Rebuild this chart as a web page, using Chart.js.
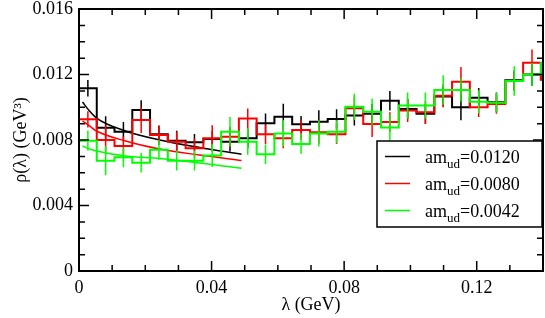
<!DOCTYPE html>
<html>
<head>
<meta charset="utf-8">
<script src="https://cdn.jsdelivr.net/npm/chart.js@4.4.1/dist/chart.umd.min.js"></script>
<style>
  body { margin: 0; background: #fff; }
  #wrap { width: 545px; height: 318px; }
</style>
</head>
<body>
<div id="wrap"><canvas id="rhoChart" width="545" height="318"></canvas></div>
<script>
// histogram bins in lambda (GeV), all the same width
var binWidth = 0.00536;

// rho(lambda) per bin, and its error, for each quark mass
var rho0120 = [0.01116, 0.00875, 0.00850, 0.00983, 0.00835, 0.00796, 0.00786, 0.00806, 0.00790,
               0.00810, 0.00902, 0.00942, 0.00896, 0.00912, 0.00928, 0.00949, 0.00960, 0.01040,
               0.00990, 0.00960, 0.01065, 0.01000, 0.01058, 0.01030, 0.01165, 0.01200, 0.01170];
var err0120 = [0.0005, 0.0007, 0.0006, 0.0006, 0.0005, 0.0006, 0.0005, 0.0005, 0.0006,
               0.0006, 0.0006, 0.0008, 0.0005, 0.0007, 0.0006, 0.0006, 0.0006, 0.0006,
               0.0006, 0.0006, 0.0006, 0.0008, 0.0006, 0.0006, 0.0006, 0.0007, 0.0006];

var rho0080 = [0.00926, 0.00800, 0.00763, 0.00922, 0.00830, 0.00790, 0.00750, 0.00810, 0.00820,
               0.00932, 0.00835, 0.00810, 0.00861, 0.00847, 0.00835, 0.00994, 0.00898, 0.00910,
               0.00980, 0.00970, 0.01070, 0.01156, 0.01000, 0.01020, 0.01160, 0.01272, 0.01170];
var err0080 = [0.0005, 0.0009, 0.0006, 0.0008, 0.0006, 0.0006, 0.0006, 0.0008, 0.0006,
               0.0006, 0.0006, 0.0006, 0.0006, 0.0007, 0.0006, 0.0007, 0.0008, 0.0006,
               0.0007, 0.0007, 0.0007, 0.0009, 0.0006, 0.0006, 0.0006, 0.0008, 0.0006];

var rho0042 = [0.00796, 0.00674, 0.00694, 0.00661, 0.00740, 0.00674, 0.00674, 0.00705, 0.00850,
               0.00790, 0.00713, 0.00840, 0.00776, 0.00840, 0.00850, 0.01003, 0.00973, 0.00877,
               0.01010, 0.01010, 0.01105, 0.01105, 0.01034, 0.01028, 0.01160, 0.01200, 0.01270];
var err0042 = [0.0006, 0.0009, 0.0006, 0.0006, 0.0006, 0.0006, 0.0006, 0.0007, 0.0009,
               0.0008, 0.0006, 0.0008, 0.0006, 0.0008, 0.0007, 0.0008, 0.0008, 0.0008,
               0.0008, 0.0008, 0.0009, 0.0007, 0.0007, 0.0006, 0.0009, 0.0007, 0.0006];

// fitted curves at small lambda
var fitLambda = [0.00106, 0.00317, 0.00529, 0.01406, 0.02434, 0.03643, 0.04903];
var fit0120 = [0.01032, 0.00977, 0.00934, 0.00855, 0.00800, 0.00754, 0.00713];
var fit0080 = [0.00916, 0.00886, 0.00855, 0.00794, 0.00745, 0.00708, 0.00675];
var fit0042 = [0.00763, 0.00745, 0.00733, 0.00702, 0.00687, 0.00660, 0.00627];

// axis ticks
var xTicks = [0, 0.04, 0.08, 0.12];
var xTickLabels = ['0', '0.04', '0.08', '0.12'];
var yTicks = [0, 0.004, 0.008, 0.012, 0.016];
var yTickLabels = ['0', '0.004', '0.008', '0.012', '0.016'];

var legendLabels = ['0.0120', '0.0080', '0.0042'];
var colors = ['#000000', '#ff0000', '#00ff00'];

var serif = "'Liberation Serif', 'DejaVu Serif', serif";

function stepPoints(vals) {
    var pts = vals.map(function (v, i) { return { x: i * binWidth, y: v }; });
    pts.push({ x: vals.length * binWidth, y: vals[vals.length - 1] });
    return pts;
}

function errPoints(vals, errs) {
    var pts = [];
    vals.forEach(function (v, i) {
        var c = (i + 0.5) * binWidth;
        pts.push({ x: c, y: v - errs[i] }, { x: c, y: v + errs[i] }, { x: c, y: null });
    });
    return pts;
}

function curvePoints(ys) {
    return fitLambda.map(function (l, i) { return { x: l, y: ys[i] }; });
}

function stepSet(vals, col) {
    return { data: stepPoints(vals), borderColor: col, borderWidth: 2, pointRadius: 0,
             stepped: 'before', fill: false };
}
function errSet(vals, errs, col) {
    return { data: errPoints(vals, errs), borderColor: col, borderWidth: 1.5, pointRadius: 0,
             spanGaps: false, fill: false };
}
function fitSet(ys, col) {
    return { data: curvePoints(ys), borderColor: col, borderWidth: 1.5, pointRadius: 0,
             cubicInterpolationMode: 'monotone', fill: false };
}

// ticks pointing inward on all four sides, plus the frame
var frameTicks = {
    id: 'frameTicks',
    afterDatasetsDraw: function (chart) {
        var ctx = chart.ctx, a = chart.chartArea;
        var xs = chart.scales.x, ys = chart.scales.y;
        ctx.save();
        ctx.strokeStyle = '#000';
        ctx.lineWidth = 1.5;
        ctx.beginPath();
        for (var k = 0; k <= 14; k++) {
            var px = xs.getPixelForValue(k * 0.01);
            var len = (k % 4 === 0) ? 10 : 6;
            ctx.moveTo(px, a.bottom); ctx.lineTo(px, a.bottom - len);
            ctx.moveTo(px, a.top); ctx.lineTo(px, a.top + len);
        }
        for (var j = 0; j <= 16; j++) {
            var py = ys.getPixelForValue(j * 0.001);
            var l2 = (j % 4 === 0) ? 10 : 6;
            ctx.moveTo(a.left, py); ctx.lineTo(a.left + l2, py);
            ctx.moveTo(a.right, py); ctx.lineTo(a.right - l2, py);
        }
        ctx.stroke();
        ctx.lineWidth = 2;
        ctx.strokeRect(a.left, a.top, a.right - a.left, a.bottom - a.top);
        ctx.restore();
    }
};

// boxed legend with subscript
var boxLegend = {
    id: 'boxLegend',
    afterDraw: function (chart) {
        var ctx = chart.ctx, a = chart.chartArea;
        var bx = a.right - 166, by = a.top + 132, bw = 165, bh = 86;
        ctx.save();
        ctx.fillStyle = '#fff';
        ctx.fillRect(bx, by, bw, bh);
        ctx.strokeStyle = '#000';
        ctx.lineWidth = 1.5;
        ctx.strokeRect(bx, by, bw, bh);
        ctx.textBaseline = 'alphabetic';
        legendLabels.forEach(function (lab, i) {
            var cy = by + 15.5 + i * 27;
            ctx.strokeStyle = colors[i];
            ctx.lineWidth = 1.5;
            ctx.beginPath();
            ctx.moveTo(bx + 8, cy); ctx.lineTo(bx + 33, cy);
            ctx.stroke();
            ctx.fillStyle = '#000';
            var tx = bx + 48, base = cy + 6;
            ctx.font = '18px ' + serif;
            ctx.fillText('am', tx, base);
            tx += ctx.measureText('am').width;
            ctx.font = '13px ' + serif;
            ctx.fillText('ud', tx, base + 5);
            tx += ctx.measureText('ud').width;
            ctx.font = '18px ' + serif;
            ctx.fillText('=' + lab, tx, base);
        });
        ctx.restore();
    }
};

var ctx = document.getElementById('rhoChart').getContext('2d');
var rhoChart = new Chart(ctx, {
    type: 'line',
    data: {
        datasets: [
            stepSet(rho0042, colors[2]),
            errSet(rho0042, err0042, colors[2]),
            fitSet(fit0042, colors[2]),
            stepSet(rho0080, colors[1]),
            errSet(rho0080, err0080, colors[1]),
            fitSet(fit0080, colors[1]),
            stepSet(rho0120, colors[0]),
            errSet(rho0120, err0120, colors[0]),
            fitSet(fit0120, colors[0])
        ]
    },
    options: {
        responsive: false,
        animation: false,
        devicePixelRatio: 1,
        layout: { padding: { top: 9, right: 2, left: 0, bottom: 0 } },
        scales: {
            x: {
                type: 'linear',
                min: 0,
                max: 0.14,
                afterBuildTicks: function (s) { s.ticks = xTicks.map(function (v) { return { value: v }; }); },
                afterFit: function (s) { s.height = 47; s.paddingLeft = 0; s.paddingRight = 0; },
                grid: { display: false, drawTicks: false },
                border: { display: false },
                ticks: {
                    padding: 6,
                    color: '#000',
                    font: { family: serif, size: 18 },
                    callback: function (v) { return xTickLabels[xTicks.indexOf(v)]; }
                },
                title: {
                    display: true,
                    text: 'λ (GeV)',
                    color: '#000',
                    font: { family: serif, size: 18 },
                    padding: { top: 0, bottom: 2 }
                }
            },
            y: {
                type: 'linear',
                min: 0,
                max: 0.016,
                afterBuildTicks: function (s) { s.ticks = yTicks.map(function (v) { return { value: v }; }); },
                afterFit: function (s) { s.width = 79; s.paddingTop = 0; s.paddingBottom = 0; },
                grid: { display: false, drawTicks: false },
                border: { display: false },
                ticks: {
                    padding: 6,
                    color: '#000',
                    font: { family: serif, size: 18 },
                    callback: function (v) { return yTickLabels[yTicks.indexOf(v)]; }
                },
                title: {
                    display: true,
                    text: 'ρ(λ) (GeV³)',
                    color: '#000',
                    font: { family: serif, size: 18 },
                    padding: { top: 10, bottom: 0 }
                }
            }
        },
        plugins: {
            legend: { display: false },
            tooltip: { enabled: false }
        }
    },
    plugins: [frameTicks, boxLegend]
});
</script>
</body>
</html>
